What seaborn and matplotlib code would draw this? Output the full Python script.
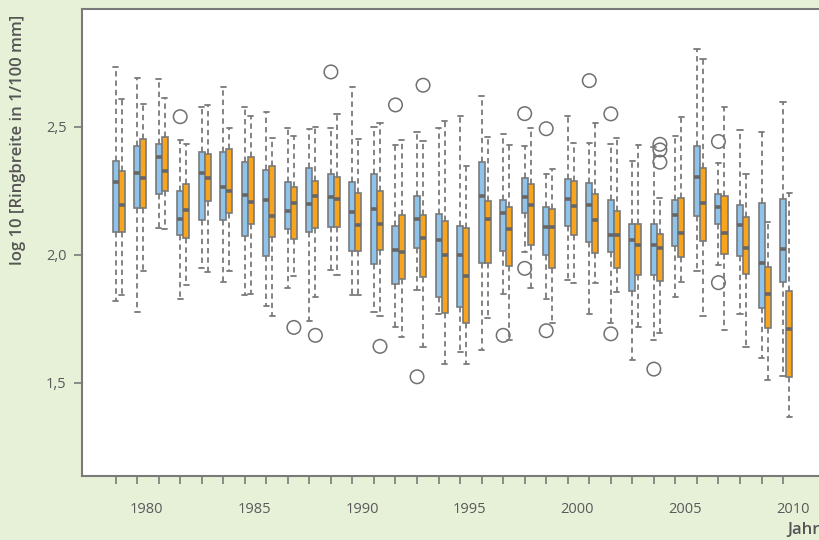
import numpy as np
import pandas as pd
import seaborn as sns
import matplotlib.pyplot as plt

years = list(range(1979, 2011))

# box statistics (log10 ring width)
blue_hi = [2.736, 2.693, 2.688, 2.447, 2.579, 2.658, 2.579, 2.559, 2.497, 2.493, 2.495, 2.658,
           2.500, 2.431, 2.479, 2.497, 2.543, 2.620, 2.471, 2.427, 2.316, 2.543, 2.439, 2.432,
           2.365, 2.423, 2.465, 2.806, 2.357, 2.487, 2.482, 2.599]
blue_q3 = [2.365, 2.427, 2.432, 2.249, 2.401, 2.401, 2.361, 2.332, 2.286, 2.339, 2.314, 2.285,
           2.315, 2.113, 2.228, 2.158, 2.111, 2.361, 2.216, 2.299, 2.188, 2.296, 2.281, 2.214,
           2.122, 2.122, 2.216, 2.427, 2.238, 2.194, 2.201, 2.217]
blue_med = [2.284, 2.319, 2.382, 2.139, 2.319, 2.264, 2.233, 2.214, 2.171, 2.198, 2.225, 2.167,
            2.178, 2.018, 2.139, 2.059, 1.999, 2.229, 2.163, 2.225, 2.108, 2.217, 2.194, 2.077,
            2.059, 2.038, 2.155, 2.303, 2.186, 2.116, 1.967, 2.022]
blue_q1 = [2.089, 2.182, 2.237, 2.077, 2.137, 2.137, 2.072, 1.995, 2.100, 2.089, 2.107, 2.016,
           1.964, 1.885, 2.026, 1.836, 1.794, 1.967, 2.014, 2.165, 1.999, 2.113, 2.049, 2.012,
           1.859, 1.921, 2.036, 2.152, 2.121, 1.996, 1.793, 1.895]
blue_lo = [1.818, 1.775, 2.103, 1.826, 1.948, 1.892, 1.842, 1.801, 1.872, 1.743, 1.939, 1.842,
           1.775, 1.717, 1.861, 1.768, 1.618, 1.629, 1.845, 2.009, 1.828, 1.901, 1.768, 1.734,
           1.587, 1.668, 1.835, 1.936, 1.961, 1.768, 1.596, 1.525]

orange_hi = [2.608, 2.591, 2.612, 2.432, 2.586, 2.495, 2.544, 2.456, 2.465, 2.501, 2.551, 2.451,
             2.516, 2.448, 2.445, 2.525, 2.349, 2.462, 2.430, 2.497, 2.337, 2.439, 2.517, 2.458,
             2.428, 2.223, 2.539, 2.767, 2.576, 2.315, 2.128, 2.243]
orange_q3 = [2.326, 2.452, 2.460, 2.277, 2.396, 2.413, 2.383, 2.348, 2.267, 2.288, 2.303, 2.241,
             2.249, 2.154, 2.154, 2.132, 2.104, 2.211, 2.188, 2.277, 2.178, 2.288, 2.237, 2.173,
             2.122, 2.081, 2.223, 2.341, 2.229, 2.146, 1.951, 1.859]
orange_med = [2.194, 2.299, 2.327, 2.174, 2.299, 2.249, 2.207, 2.151, 2.203, 2.229, 2.217, 2.116,
              2.120, 2.010, 2.065, 1.999, 1.917, 2.139, 2.100, 2.194, 2.108, 2.190, 2.135, 2.077,
              2.038, 2.026, 2.085, 2.203, 2.085, 2.026, 1.846, 1.710]
orange_q1 = [2.089, 2.182, 2.249, 2.064, 2.212, 2.163, 2.120, 2.069, 2.061, 2.104, 2.107, 2.016,
             2.018, 1.905, 1.915, 1.771, 1.733, 1.967, 1.957, 2.038, 1.947, 2.077, 2.007, 1.949,
             1.921, 1.898, 1.992, 2.053, 2.004, 1.924, 1.714, 1.523]
orange_lo = [1.842, 1.935, 2.102, 1.883, 1.931, 1.935, 1.848, 1.760, 1.917, 1.836, 1.921, 1.842,
             1.759, 1.677, 1.638, 1.574, 1.573, 1.751, 1.665, 1.872, 1.733, 1.891, 1.888, 1.855,
             1.716, 1.693, 1.892, 1.759, 1.704, 1.638, 1.510, 1.365]

# outliers (open circles)
blue_out_years = [1982, 1989, 1992, 1993, 1997, 1998, 1998, 1999, 1999, 2001, 2002, 2002, 2004, 2007, 2007]
blue_out_vals = [2.540, 2.715, 2.586, 1.523, 1.685, 2.552, 1.947, 2.493, 1.703, 2.681, 2.551, 1.691, 1.553, 2.443, 1.891]
orange_out_years = [1987, 1988, 1991, 1993, 2004, 2004, 2004]
orange_out_vals = [1.716, 1.685, 1.642, 2.663, 2.432, 2.410, 2.362]

label_years = [1980, 1985, 1990, 1995, 2000, 2005, 2010]
y_ticks = [1.5, 2.0, 2.5]
y_ticklabels = ["1,5", "2,0", "2,5"]

bg = "#e7f1d8"
blue = "#8ec4ec"
orange = "#f7a51e"
grey = "#7a7a7a"
box_width = 0.56
off = box_width / 4

sns.set_style("white")
plt.rcParams["font.family"] = ["Open Sans", "DejaVu Sans"]

rows = []
stats = {
    "blau": (blue_lo, blue_q1, blue_med, blue_q3, blue_hi),
    "orange": (orange_lo, orange_q1, orange_med, orange_q3, orange_hi),
}
for serie, cols in stats.items():
    for i, yr in enumerate(years):
        for c in cols:
            rows.append({"Jahr": str(yr), "Wert": c[i], "Reihe": serie})
df = pd.DataFrame(rows)

fig = plt.figure(figsize=(8.2, 5.4), dpi=100, facecolor=bg)
ax = fig.add_axes([0.1, 0.1185, 0.95, 0.8648])
ax.set_facecolor("white")

sns.boxplot(data=df, x="Jahr", y="Wert", hue="Reihe", order=[str(y) for y in years],
            hue_order=["blau", "orange"], palette=[blue, orange], saturation=1,
            width=box_width, gap=0, dodge=True, whis=(0, 100), showfliers=False,
            linecolor=grey, linewidth=1.2, legend=False, ax=ax,
            medianprops={"color": "#666666", "linewidth": 2.6},
            whiskerprops={"linestyle": (0, (3, 2.2)), "linewidth": 1.3},
            capprops={"linewidth": 1.3}, capwidths=0.24)

idx = {y: i for i, y in enumerate(years)}
sns.scatterplot(x=[idx[y] - off for y in blue_out_years], y=blue_out_vals, ax=ax,
                s=95, marker="o", facecolor="none", edgecolor="#707070", linewidth=1.1)
sns.scatterplot(x=[idx[y] + off for y in orange_out_years], y=orange_out_vals, ax=ax,
                s=95, marker="o", facecolor="none", edgecolor="#707070", linewidth=1.1)

ax.set_xlim(-1.70, 34.48)
ax.set_ylim(1.135, 2.961)
ax.set_xlabel("")
ax.set_ylabel("")

ax.set_xticks([i - off for i in range(len(years))], minor=True)
ax.set_xticks([idx[y] - off + 0.45 for y in label_years])
ax.set_xticklabels([str(y) for y in label_years])
ax.tick_params(axis="x", which="major", length=0, pad=19, labelsize=10.5, labelcolor="#5a5a5a")
ax.tick_params(axis="x", which="minor", length=6, width=1.2, color=grey, direction="out", bottom=True)

ax.set_yticks(y_ticks)
ax.set_yticklabels(y_ticklabels)
ax.tick_params(axis="y", length=6, width=1.2, color=grey, direction="out", left=True,
               pad=5, labelsize=10.5, labelcolor="#5a5a5a")

for side in ["left", "bottom", "top", "right"]:
    ax.spines[side].set_color(grey)
    ax.spines[side].set_linewidth(1.5)

fig.text(0.022, 0.741, "log 10 [Ringbreite in 1/100 mm]", rotation=90, ha="center", va="center",
         fontsize=12, fontweight="semibold", color="#555555")
fig.text(0.96, 0.018, "Jahr", ha="left", va="center", fontsize=12, fontweight="semibold",
         color="#555555")

fig.savefig("out.png", dpi=100, facecolor=bg)
